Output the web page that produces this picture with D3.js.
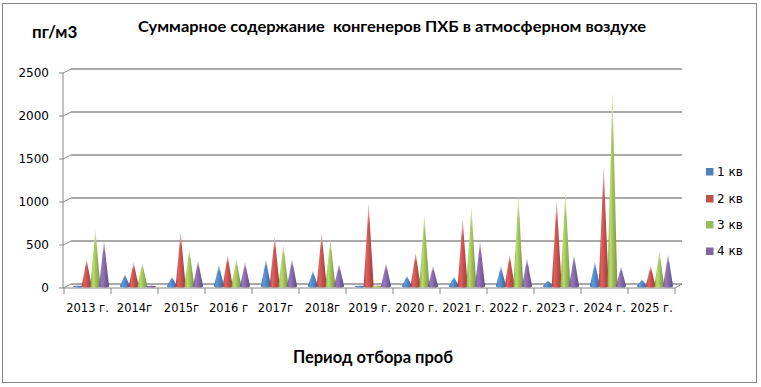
<!DOCTYPE html>
<html>
<head>
<meta charset="utf-8">
<script src="https://cdn.jsdelivr.net/npm/d3@7"></script>
<style>
    body { margin: 0; background: #fff; }
    svg { display: block; }
</style>
</head>
<body>
<div id="chart"></div>
<script>

// Data

const categories = ["2013 г.", "2014г", "2015г", "2016 г", "2017г", "2018г", "2019 г.",
    "2020 г.", "2021 г.", "2022 г.", "2023 г.", "2024 г.", "2025 г."];
const seriesNames = ["1 кв", "2 кв", "3 кв", "4 кв"];
const q1 = [5, 135, 105, 240, 305, 175, 5, 115, 105, 230, 65, 275, 75];
const q2 = [305, 270, 620, 355, 570, 610, 955, 380, 770, 360, 990, 1380, 230];
const q3 = [650, 262, 425, 308, 475, 540, 10, 820, 910, 1040, 1080, 2255, 390];
const q4 = [520, 5, 290, 270, 308, 250, 260, 230, 512, 315, 355, 225, 360];
const yTicks = [0, 500, 1000, 1500, 2000, 2500];

const title = "Суммарное содержание  конгенеров ПХБ в атмосферном воздухе";
const yTitle = "пг/м3";
const xTitle = "Период отбора проб";

// Configure

const width = 761, height = 387;
const colors = ["#4F81BD", "#C0504D", "#9BBB59", "#8064A2"];
const depth = { dx: 7, dy: -4 };
const axisFont = "'DejaVu Sans', Verdana, sans-serif";
const titleFont = "Lato, 'Open Sans', sans-serif";

const svg = d3.select("#chart").append("svg")
    .attr("width", width)
    .attr("height", height);

svg.append("rect")
    .attr("x", 2.5).attr("y", 3.5)
    .attr("width", 754).attr("height", 379)
    .attr("fill", "#fff")
    .attr("stroke", "#868686");

// Scales

const x = d3.scaleBand()
    .domain(categories)
    .range([64, 675]);

const sub = d3.scaleBand()
    .domain(seriesNames)
    .range([0, x.bandwidth()])
    .paddingOuter(0.7);

const y = d3.scaleLinear()
    .domain([0, 2500])
    .range([288, 73]);

// Gradients

const defs = svg.append("defs");
colors.forEach((c, i) => {
    const g = defs.append("linearGradient")
        .attr("id", "cone" + i)
        .attr("x1", 0).attr("x2", 1).attr("y1", 0).attr("y2", 0);
    g.append("stop").attr("offset", "0%").attr("stop-color", d3.color(c).darker(0.5));
    g.append("stop").attr("offset", "28%").attr("stop-color", d3.color(c).brighter(0.5));
    g.append("stop").attr("offset", "60%").attr("stop-color", c);
    g.append("stop").attr("offset", "100%").attr("stop-color", d3.color(c).darker(0.7));
});
const tip = defs.append("linearGradient")
    .attr("id", "tip")
    .attr("x1", 0).attr("x2", 0).attr("y1", 0).attr("y2", 1);
tip.append("stop").attr("offset", "0%").attr("stop-color", "#fff").attr("stop-opacity", 0.75);
tip.append("stop").attr("offset", "25%").attr("stop-color", "#fff").attr("stop-opacity", 0);

// Walls and gridlines

const xLeft = x.range()[0], xRight = x.range()[1];

svg.append("g").selectAll("line")
    .data(yTicks)
    .join("line")
    .attr("x1", xLeft + depth.dx)
    .attr("x2", xRight + depth.dx)
    .attr("y1", d => y(d) + depth.dy)
    .attr("y2", d => y(d) + depth.dy)
    .attr("stroke", "#8c8c8c")
    .attr("stroke-width", 1.7);

// left wall edge with ticks
const yAxis = svg.append("g").attr("stroke", "#868686").attr("fill", "none");
yAxis.append("line")
    .attr("x1", xLeft - 1).attr("x2", xLeft - 1)
    .attr("y1", y(2500)).attr("y2", y(0));
yAxis.selectAll("path")
    .data(yTicks)
    .join("path")
    .attr("d", d => "M" + (xLeft - 5) + "," + y(d) + "H" + (xLeft - 1)
        + "L" + (xLeft + depth.dx) + "," + (y(d) + depth.dy));

svg.append("g").selectAll("text")
    .data(yTicks)
    .join("text")
    .attr("x", 49)
    .attr("y", d => y(d))
    .attr("dy", "0.36em")
    .attr("text-anchor", "end")
    .attr("font-family", axisFont)
    .attr("font-size", 12)
    .attr("fill", "#000")
    .text(d => d);

// floor front edge
const floor = svg.append("g").attr("stroke", "#868686").attr("fill", "none");
floor.append("path")
    .attr("d", "M" + (xLeft - 1) + "," + y(0) + "H" + xRight
        + "L" + (xRight + depth.dx) + "," + (y(0) + depth.dy));
floor.selectAll("line")
    .data(categories.concat(["end"]))
    .join("line")
    .attr("x1", (d, i) => i < categories.length ? x(d) : xRight)
    .attr("x2", (d, i) => i < categories.length ? x(d) : xRight)
    .attr("y1", y(0))
    .attr("y2", y(0) + 6);

// Cones

const series = [q1, q2, q3, q4];
const coneHalf = 5;

series.forEach((values, s) => {
    const g = svg.append("g");
    const cx = (d, i) => x(categories[i]) + sub(seriesNames[s]) + sub.bandwidth() / 2 + depth.dx / 2;
    const base = y(0) + depth.dy / 2;
    const conePath = (d, i) => {
        const c = cx(d, i);
        const top = y(d) + depth.dy / 2;
        return "M" + (c - coneHalf) + "," + base + "L" + c + "," + top + "L" + (c + coneHalf) + "," + base
            + "A" + coneHalf + ",1.5 0 0,1 " + (c - coneHalf) + "," + base + "Z";
    };
    g.selectAll("path.cone")
        .data(values)
        .join("path")
        .attr("class", "cone")
        .attr("fill", "url(#cone" + s + ")")
        .attr("d", conePath);
    g.selectAll("path.tip")
        .data(values)
        .join("path")
        .attr("class", "tip")
        .attr("fill", "url(#tip)")
        .attr("d", conePath);
});

// Category labels

svg.append("g").selectAll("text")
    .data(categories)
    .join("text")
    .attr("x", d => x(d) + x.bandwidth() / 2)
    .attr("y", 312)
    .attr("text-anchor", "middle")
    .attr("font-family", axisFont)
    .attr("font-size", 11.5)
    .attr("fill", "#000")
    .text(d => d);

// Titles

svg.append("text")
    .attr("x", 392).attr("y", 32)
    .attr("text-anchor", "middle")
    .attr("font-family", titleFont)
    .attr("font-weight", "bold")
    .attr("font-size", 16)
    .attr("textLength", 508)
    .attr("lengthAdjust", "spacingAndGlyphs")
    .style("white-space", "pre")
    .text(title);

svg.append("text")
    .attr("x", 32).attr("y", 38)
    .attr("font-family", titleFont)
    .attr("font-weight", "bold")
    .attr("font-size", 17)
    .text(yTitle);

svg.append("text")
    .attr("x", 373).attr("y", 363)
    .attr("text-anchor", "middle")
    .attr("font-family", titleFont)
    .attr("font-weight", "bold")
    .attr("font-size", 16.5)
    .text(xTitle);

// Legend

const legend = svg.append("g").selectAll("g")
    .data(seriesNames)
    .join("g")
    .attr("transform", (d, i) => "translate(706," + [171.5, 198.5, 224.5, 251][i] + ")");

legend.append("rect")
    .attr("x", 0).attr("y", -3.5)
    .attr("width", 7.5).attr("height", 7.5)
    .attr("fill", (d, i) => colors[i]);

legend.append("text")
    .attr("x", 11).attr("y", 0)
    .attr("dy", "0.36em")
    .attr("font-family", axisFont)
    .attr("font-size", 12)
    .attr("fill", "#000")
    .text(d => d);

</script>
</body>
</html>
